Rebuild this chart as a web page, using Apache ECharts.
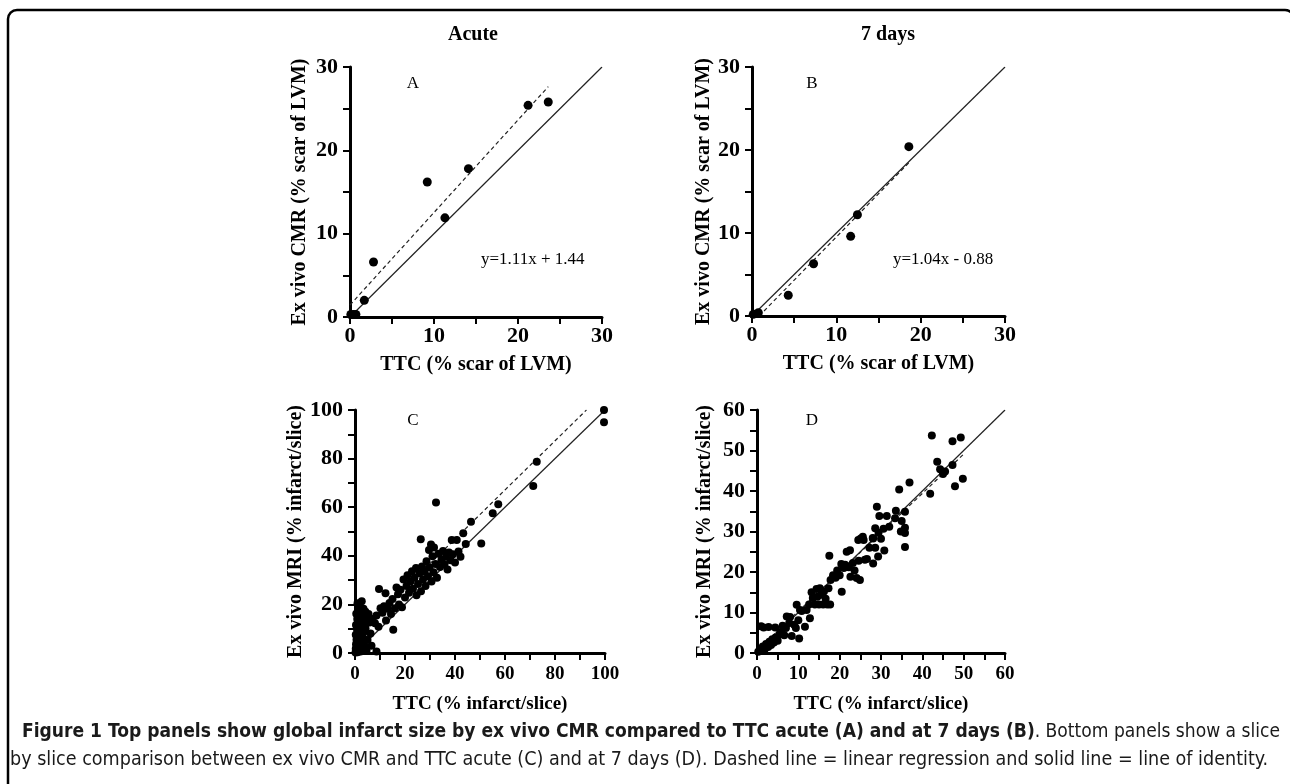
<!DOCTYPE html>
<html><head><meta charset="utf-8">
<script src="https://cdn.jsdelivr.net/npm/echarts@6/dist/echarts.min.js"></script>
<style>html,body{margin:0;padding:0;background:#fff}#c{width:1290px;height:784px}</style>
</head><body><div id="c"></div>
<script>
// ---------------- DATA ----------------
const columnTitles = ['Acute', '7 days'];
const panelLetters = ['A', 'B', 'C', 'D'];
const xAxisNames = ['TTC (% scar of LVM)', 'TTC (% scar of LVM)', 'TTC (% infarct/slice)', 'TTC (% infarct/slice)'];
const yAxisNames = ['Ex vivo CMR (% scar of LVM)', 'Ex vivo CMR (% scar of LVM)', 'Ex vivo MRI (% infarct/slice)', 'Ex vivo MRI (% infarct/slice)'];
const axisMax = [30, 30, 100, 60];
const tickStep = [5, 5, 10, 5];
const labelStep = [10, 10, 20, 10];
const equations = ['y=1.11x + 1.44', 'y=1.04x - 0.88'];
const regSlope = [1.11, 1.04, 1.01, 0.97];
const regIntercept = [1.44, -0.88, 6.5, 0.6];
const regRange = [[0, 23.6], [0.85, 18.6], [0, 92.6], [0, 50]];
const captionBold = 'Figure 1 Top panels show global infarct size by ex vivo CMR compared to TTC acute (A) and at 7 days (B)';
const captionRest1 = '. Bottom panels show a slice';
const captionLine2 = 'by slice comparison between ex vivo CMR and TTC acute (C) and at 7 days (D). Dashed line = linear regression and solid line = line of identity.';

const pointsA = [[0.1,0.3],[0.4,0.3],[0.7,0.3],[1.7,2.0],[2.8,6.6],[9.2,16.2],[11.3,11.9],[14.1,17.8],[21.2,25.4],[23.6,25.8]];
const pointsB = [[0.15,0.2],[0.75,0.4],[4.3,2.5],[7.3,6.3],[11.7,9.6],[12.5,12.2],[18.6,20.4]];
const pointsC = [
 [0.2,0.2],[0.5,0.8],[1.0,0.3],[0.3,1.8],[0.9,2.5],[1.6,1.2],[2.2,0.6],[0.4,3.6],[1.3,4.2],[2.0,3.0],
 [2.8,1.8],[3.5,0.9],[0.6,5.5],[1.5,6.2],[2.4,5.0],[3.2,3.8],[4.0,2.6],[4.6,1.0],[0.3,7.5],[1.1,8.4],
 [2.0,7.6],[2.9,6.8],[3.8,5.6],[0.8,9.8],[1.8,10.6],[2.6,9.2],[3.4,8.4],[0.4,11.5],[1.4,12.6],[2.3,12.0],
 [3.0,11.0],[4.2,10.2],[0.9,14.0],[1.9,14.8],[2.8,13.6],[3.8,13.0],[0.5,16.2],[1.5,17.2],[2.4,16.4],[3.6,15.6],
 [4.6,14.6],[1.2,19.0],[2.2,18.6],[3.4,18.2],[4.2,17.0],[2.7,21.3],[5.4,16.0],[5.8,12.6],[6.2,8.0],[5.0,5.4],
 [8.6,0.6],[6.6,3.0],[1.0,20.5],
 [7.0,14.0],[8.0,12.2],[8.6,15.4],[9.4,10.8],[9.6,26.3],[10.2,18.4],[11.0,16.6],[11.6,19.2],[12.4,13.4],[12.2,24.6],
 [13.2,18.2],[13.8,20.6],[14.4,16.0],[15.3,9.6],[15.0,22.2],[16.0,18.4],[16.6,27.0],[17.2,24.2],[17.6,20.0],[18.2,26.0],
 [18.8,18.8],[19.4,30.2],[20.0,22.8],[20.6,27.6],
 [21.0,32.0],[21.6,24.8],[22.2,29.4],[22.8,33.6],[23.2,26.4],[23.8,31.0],[24.4,35.0],[24.6,23.8],[25.2,28.4],[25.8,32.8],
 [26.3,46.8],[26.4,25.4],[26.8,35.6],[27.2,30.2],[27.8,33.4],[28.2,27.6],[28.6,37.8],[29.2,31.6],[29.6,42.4],[29.8,35.2],
 [30.4,44.6],[30.6,29.4],[31.0,39.8],[31.4,33.2],[31.6,43.4],[32.2,36.6],[32.4,61.9],[32.8,31.0],[33.4,40.8],[34.0,35.4],
 [34.6,38.4],[35.2,42.0],[35.8,36.4],[36.4,39.6],[37.0,34.4],[37.6,41.4],[38.2,38.2],[38.7,46.5],[39.2,40.6],[40.0,37.2],
 [40.7,46.5],[41.4,41.8],[42.2,39.6],[43.3,49.3],[44.3,44.9],[46.4,54.0],[50.5,45.1],[55.1,57.5],[57.3,61.2],[71.3,68.7],
 [72.7,78.7],[99.6,100],[99.6,95]
];
const pointsD = [
 [0.3,0.3],[0.7,0.9],[1.2,0.5],[1.4,1.6],[1.9,1.0],[2.2,2.2],[2.7,1.5],[3.0,2.8],[3.4,2.0],[3.7,3.4],
 [4.1,2.6],[4.5,3.8],[5.0,3.0],[5.4,4.6],[1.0,6.6],[1.6,6.3],[2.8,6.4],[4.4,6.3],[6.2,6.7],[5.8,5.2],
 [6.6,4.4],[7.2,9.0],[7.0,6.2],[7.8,7.4],[8.0,8.9],[8.4,4.2],[9.0,7.0],[9.4,6.2],[10.0,8.1],[10.2,3.6],
 [10.4,10.6],[9.6,11.9],[10.8,10.4],[11.6,6.5],[12.0,10.6],[12.8,8.6],[12.6,12.0],[13.2,15.0],[13.5,13.6],[14.0,12.0],
 [14.4,15.8],[14.6,13.9],[15.0,12.0],[15.2,16.0],[15.6,14.4],[16.0,12.0],[16.2,15.2],[16.6,13.4],[17.0,12.0],[17.3,16.0],
 [17.7,12.0],[17.5,24.0],[17.8,18.0],[18.4,19.2],[19.0,18.6],[19.4,20.4],[20.0,19.2],[20.5,15.1],[20.4,22.0],[21.0,21.0],
 [21.3,21.8],[21.7,25.0],[22.2,21.2],[22.5,25.4],[22.6,18.8],[23.2,22.2],[23.6,20.4],[24.1,18.5],[24.5,27.9],[24.6,22.8],
 [24.9,18.0],[25.1,28.3],[25.8,27.9],[26.1,23.0],[26.6,23.2],[27.2,26.0],[28.0,28.4],[28.1,22.1],[28.6,30.8],[29.0,36.1],
 [29.3,23.8],[29.4,29.7],[29.6,33.8],[30.0,28.2],[30.6,30.7],[30.8,25.3],[31.4,33.8],[32.0,31.2],[33.4,33.3],[33.6,35.1],
 [34.4,40.4],[34.8,30.0],[35.0,32.6],[35.8,34.9],[35.8,30.9],[35.8,29.6],[35.8,26.2],[36.9,42.1],[41.9,39.3],[42.3,53.7],
 [43.6,47.2],[44.3,45.4],[45.0,44.2],[45.5,44.8],[47.3,46.4],[47.3,52.3],[47.9,41.2],[49.3,53.2],[49.8,43.0],[28.6,26.0],
 [25.6,28.7],[28.1,28.3]
];
const allPoints = [pointsA, pointsB, pointsC, pointsD];

// ---------------- LAYOUT ----------------
const grids = [
  {left: 350, top: 67, width: 252, height: 250},
  {left: 752, top: 67, width: 253, height: 249},
  {left: 355, top: 410, width: 250, height: 243},
  {left: 757, top: 410, width: 248, height: 243}
];
const yNameGap = [40, 37, 42, 42];
const serif = "'Liberation Serif','Times New Roman',serif";
const capFont = "'Liberation Sans Narrow','DejaVu Sans Condensed','Liberation Sans',sans-serif";

function makeAxis(i, isX) {
  const small = isX && i >= 2;
  return {
    type: 'value', gridIndex: i, min: 0, max: axisMax[i], interval: tickStep[i],
    axisLine: {show: true, onZero: false, lineStyle: {color: '#000', width: 3}},
    axisTick: {show: true, inside: false, length: 7, lineStyle: {color: '#000', width: 2}},
    splitLine: {show: false},
    axisLabel: {
      formatter: v => (Math.round(v) % labelStep[i] === 0 ? String(v) : ''),
      fontFamily: serif, fontWeight: 'bold', fontSize: small ? 19 : 22, color: '#000',
      margin: isX ? (small ? 12 : 8) : 12, showMinLabel: true, showMaxLabel: true
    },
    name: isX ? xAxisNames[i] : yAxisNames[i],
    nameLocation: 'middle',
    nameGap: isX ? (small ? 42 : 38) : yNameGap[i],
    nameTextStyle: {fontFamily: serif, fontWeight: 'bold', fontSize: small ? 19 : 20, color: '#000'}
  };
}

const series = [];
for (let i = 0; i < 4; i++) {
  const m = regSlope[i], b = regIntercept[i], r = regRange[i];
  series.push({
    type: 'line', xAxisIndex: i, yAxisIndex: i, symbol: 'none', silent: true,
    lineStyle: {color: '#222', width: 1.2},
    data: [[0, 0], [axisMax[i], axisMax[i]]], z: 2
  });
  series.push({
    type: 'line', xAxisIndex: i, yAxisIndex: i, symbol: 'none', silent: true,
    lineStyle: {color: '#222', width: 1.2, type: [4, 3]},
    data: [[r[0], m * r[0] + b], [r[1], m * r[1] + b]], z: 2
  });
  series.push({
    type: 'scatter', xAxisIndex: i, yAxisIndex: i, symbol: 'circle',
    symbolSize: i < 2 ? 9 : 8, itemStyle: {color: '#000', opacity: 1},
    data: allPoints[i], z: 3
  });
}

// caption measurement for condensed fitting
const cv = document.createElement('canvas').getContext('2d');
function measure(txt, weight, size) {
  cv.font = `${weight} ${size}px ${capFont}`;
  return cv.measureText(txt).width;
}
const capSize = 20;
const wB = measure(captionBold, 'bold', capSize);
const wR = measure(captionRest1, 'normal', capSize);
const s1 = 1258 / (wB + wR);
const w2 = measure(captionLine2, 'normal', capSize);
const s2 = 1258 / w2;

const graphic = [
  {type: 'rect', shape: {x: 8, y: 10, width: 1286, height: 820, r: 9}, style: {fill: 'none', stroke: '#000', lineWidth: 2.5}, silent: true},
  {type: 'text', x: 473, y: 35, style: {text: columnTitles[0], font: `bold 20px ${serif}`, fill: '#000', align: 'center', verticalAlign: 'middle'}},
  {type: 'text', x: 888, y: 35, style: {text: columnTitles[1], font: `bold 20px ${serif}`, fill: '#000', align: 'center', verticalAlign: 'middle'}},
  {type: 'text', x: 413, y: 84, style: {text: panelLetters[0], font: `17px ${serif}`, fill: '#000', align: 'center', verticalAlign: 'middle'}},
  {type: 'text', x: 812, y: 84, style: {text: panelLetters[1], font: `17px ${serif}`, fill: '#000', align: 'center', verticalAlign: 'middle'}},
  {type: 'text', x: 413, y: 421, style: {text: panelLetters[2], font: `17px ${serif}`, fill: '#000', align: 'center', verticalAlign: 'middle'}},
  {type: 'text', x: 812, y: 421, style: {text: panelLetters[3], font: `17px ${serif}`, fill: '#000', align: 'center', verticalAlign: 'middle'}},
  {type: 'text', x: 481, y: 260, style: {text: equations[0], font: `17px ${serif}`, fill: '#000', align: 'left', verticalAlign: 'middle'}},
  {type: 'text', x: 893, y: 260, style: {text: equations[1], font: `17px ${serif}`, fill: '#000', align: 'left', verticalAlign: 'middle'}},
  {type: 'text', x: 22, y: 732, scaleX: s1, style: {text: captionBold, font: `bold ${capSize}px ${capFont}`, fill: '#1a1a1a', align: 'left', verticalAlign: 'middle'}},
  {type: 'text', x: 22 + wB * s1, y: 732, scaleX: s1, style: {text: captionRest1, font: `normal ${capSize}px ${capFont}`, fill: '#1a1a1a', align: 'left', verticalAlign: 'middle'}},
  {type: 'text', x: 10, y: 760, scaleX: s2, style: {text: captionLine2, font: `normal ${capSize}px ${capFont}`, fill: '#1a1a1a', align: 'left', verticalAlign: 'middle'}}
];

const chart = echarts.init(document.getElementById('c'), null, {renderer: 'canvas'});
chart.setOption({
  animation: false,
  backgroundColor: '#fff',
  grid: grids.map(g => Object.assign({containLabel: false}, g)),
  xAxis: [0, 1, 2, 3].map(i => makeAxis(i, true)),
  yAxis: [0, 1, 2, 3].map(i => makeAxis(i, false)),
  series: series,
  graphic: graphic
});
</script></body></html>
